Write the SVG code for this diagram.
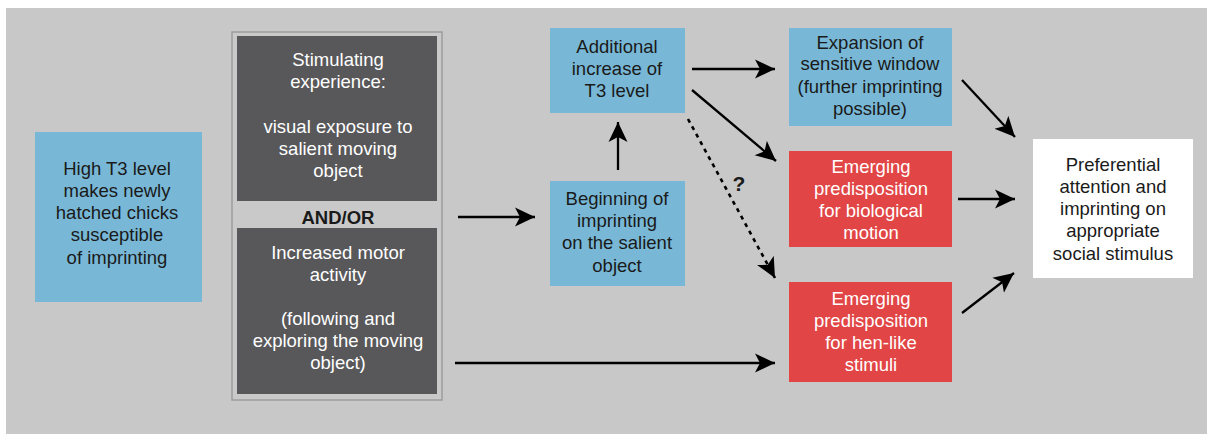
<svg xmlns="http://www.w3.org/2000/svg" width="1207" height="434" viewBox="0 0 1207 434">
<defs>
<style>
.bg{fill:#c8c8c8}
.blue{fill:#78b8d6}
.red{fill:#e14545}
.dark{fill:#58585a}
.white{fill:#ffffff}
.frame{fill:#c9c9c9;stroke:#9c9c9c;stroke-width:1.5}
text{font-family:"Liberation Sans",Arial,sans-serif;font-size:18.5px;text-anchor:middle}
.tk{fill:#1a1a1a}
.tw{fill:#ffffff}
.bold{font-weight:bold}
.conn{stroke:#000;stroke-width:2.3;fill:none;marker-end:url(#ah)}
.dot{stroke-dasharray:4 4.5;stroke-width:2.6}
</style>
<marker id="ah" markerUnits="userSpaceOnUse" markerWidth="22" markerHeight="22" refX="20" refY="10" orient="auto" viewBox="0 0 22 22">
<path d="M0,0.5 L20,10 L0,19.5 L5,10 z" fill="#000"/>
</marker>
</defs>
<rect class="bg" x="6" y="8" width="1201" height="426"/>

<g id="high-t3">
<rect class="blue" x="35" y="132" width="167" height="170"/>
<text class="tk"><tspan x="117" y="174.5">High T3 level</tspan><tspan x="117" y="196.8">makes newly</tspan><tspan x="117" y="219">hatched chicks</tspan><tspan x="117" y="241.3">susceptible</tspan><tspan x="117" y="263.5">of imprinting</tspan></text>
</g>

<g id="experience-frame">
<rect class="frame" x="232" y="32" width="210" height="368"/>
<g id="stimulating">
<rect class="dark" x="237" y="36" width="200" height="165"/>
<text class="tw"><tspan x="338" y="65.5">Stimulating</tspan><tspan x="338" y="87.5">experience:</tspan><tspan x="338" y="132.5">visual exposure to</tspan><tspan x="338" y="154.5">salient moving</tspan><tspan x="338" y="177">object</tspan></text>
</g>
<text class="tk bold" x="338" y="223.5">AND/OR</text>
<g id="motor">
<rect class="dark" x="237" y="228" width="200" height="166"/>
<text class="tw"><tspan x="338" y="258.5">Increased motor</tspan><tspan x="338" y="280.5">activity</tspan><tspan x="338" y="324.5">(following and</tspan><tspan x="338" y="347">exploring the moving</tspan><tspan x="338" y="369">object)</tspan></text>
</g>
</g>

<g id="additional">
<rect class="blue" x="550" y="28" width="135" height="85"/>
<text class="tk"><tspan x="617" y="52.5">Additional</tspan><tspan x="617" y="74.5">increase of</tspan><tspan x="617" y="96.5">T3 level</tspan></text>
</g>

<g id="beginning">
<rect class="blue" x="550" y="181" width="135" height="105"/>
<text class="tk"><tspan x="617" y="204.5">Beginning of</tspan><tspan x="617" y="227">imprinting</tspan><tspan x="617" y="249">on the salient</tspan><tspan x="617" y="271.5">object</tspan></text>
</g>

<g id="expansion">
<rect class="blue" x="789" y="28" width="163" height="98"/>
<text class="tk"><tspan x="870" y="48.5">Expansion of</tspan><tspan x="870" y="70">sensitive window</tspan><tspan x="870" y="92.5">(further imprinting</tspan><tspan x="870" y="114.5">possible)</tspan></text>
</g>

<g id="biological">
<rect class="red" x="789" y="151" width="163" height="96"/>
<text class="tw"><tspan x="871" y="172.5">Emerging</tspan><tspan x="871" y="194.5">predisposition</tspan><tspan x="871" y="217">for biological</tspan><tspan x="871" y="239">motion</tspan></text>
</g>

<g id="henlike">
<rect class="red" x="789" y="282" width="163" height="100"/>
<text class="tw"><tspan x="871" y="304.5">Emerging</tspan><tspan x="871" y="326.5">predisposition</tspan><tspan x="871" y="348.5">for hen-like</tspan><tspan x="871" y="370.5">stimuli</tspan></text>
</g>

<g id="preferential">
<rect class="white" x="1033" y="139" width="160" height="139"/>
<text class="tk"><tspan x="1113" y="170.5">Preferential</tspan><tspan x="1113" y="192.5">attention and</tspan><tspan x="1113" y="215">imprinting on</tspan><tspan x="1113" y="237">appropriate</tspan><tspan x="1113" y="259.5">social stimulus</tspan></text>
</g>

<g id="connectors">
<line class="conn" x1="458" y1="217" x2="535" y2="217"/>
<line class="conn" x1="618" y1="170" x2="618" y2="122"/>
<line class="conn" x1="692" y1="69" x2="775" y2="69"/>
<line class="conn" x1="692" y1="90" x2="776" y2="161"/>
<line class="conn dot" x1="688" y1="119" x2="775" y2="278"/>
<line class="conn" x1="455" y1="363" x2="775" y2="363"/>
<line class="conn" x1="962" y1="80" x2="1015" y2="137"/>
<line class="conn" x1="958" y1="199" x2="1015" y2="199"/>
<line class="conn" x1="962" y1="313" x2="1014" y2="273"/>
<text class="tk bold" x="739" y="191" style="font-size:21px">?</text>
</g>
</svg>
